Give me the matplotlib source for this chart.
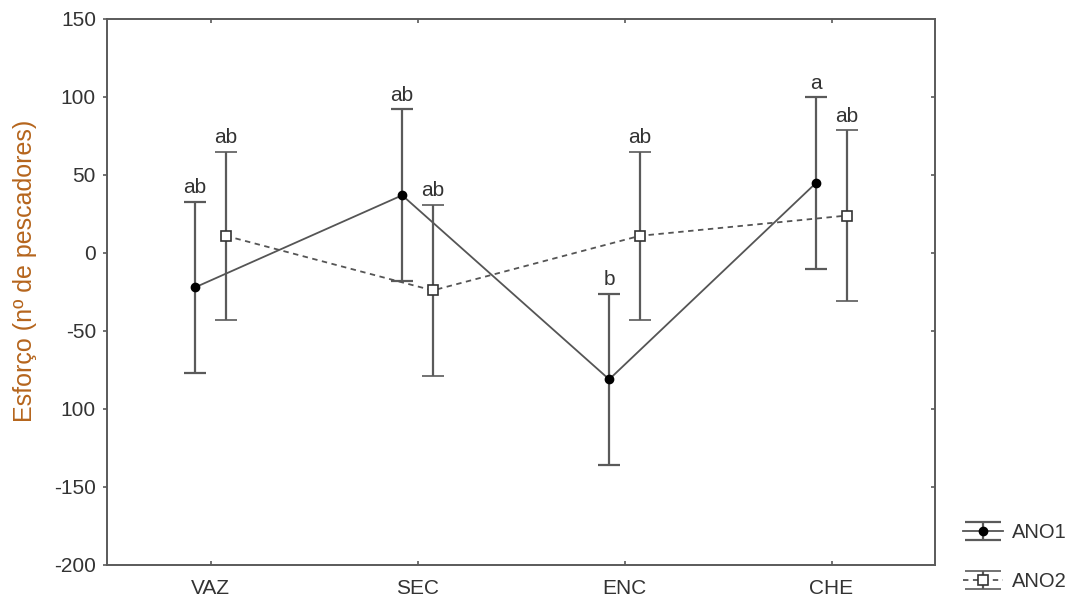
import matplotlib.pyplot as plt
import numpy as np
from matplotlib.legend_handler import HandlerErrorbar
from matplotlib.lines import Line2D

plt.rcParams['font.family'] = ['Liberation Sans', 'DejaVu Sans']

# data
categories = ['VAZ', 'SEC', 'ENC', 'CHE']
ano1_mean = [-22, 37, -81, 45]
ano1_err = [55, 55, 55, 55]
ano1_letters = ['ab', 'ab', 'b', 'a']
ano2_mean = [11, -24, 11, 24]
ano2_err = [54, 55, 54, 55]
ano2_letters = ['ab', 'ab', 'ab', 'ab']
yticks = [150, 100, 50, 0, -50, -100, -150, -200]
ytick_labels = ['150', '100', '50', '0', '-50', '100', '-150', '-200']

GRAY = '#5a5a5a'
TXT = '#333333'


class WideCapHandler(HandlerErrorbar):
    # caps across the whole handle, like the reference legend
    def create_artists(self, *args, **kwargs):
        arts = super().create_artists(*args, **kwargs)
        for a in arts:
            if isinstance(a, Line2D) and a.get_marker() == '_':
                a.set_markersize(26)
        return arts


fig = plt.figure(figsize=(10.67, 5.99), dpi=100)
ax = fig.add_axes([107 / 1067, 1 - 565 / 599, (935 - 107) / 1067, (565 - 19) / 599])

x = np.arange(1, len(categories) + 1)
off = 0.074

e1 = ax.errorbar(x - off, ano1_mean, yerr=ano1_err, fmt='o', ms=6, mfc='black', mec='black',
                 ecolor=GRAY, elinewidth=1.6, capsize=8, capthick=1.6,
                 ls='-', color='#555555', lw=1.3, label='ANO1', zorder=3)
e2 = ax.errorbar(x + off, ano2_mean, yerr=ano2_err, fmt='s', ms=7, mfc='white', mec='#333333', mew=1.2,
                 ecolor=GRAY, elinewidth=1.6, capsize=8, capthick=1.6,
                 ls=(0, (3, 2.5)), color='#555555', lw=1.3, label='ANO2', zorder=3)

for xi, m, e, t in zip(x - off, ano1_mean, ano1_err, ano1_letters):
    ax.annotate(t, (xi, m + e), xytext=(0, 3), textcoords='offset points',
                ha='center', va='bottom', fontsize=15, color=TXT)
for xi, m, e, t in zip(x + off, ano2_mean, ano2_err, ano2_letters):
    ax.annotate(t, (xi, m + e), xytext=(0, 3), textcoords='offset points',
                ha='center', va='bottom', fontsize=15, color=TXT)

ax.set_xlim(0.5, 4.5)
ax.set_ylim(-200, 150)
ax.set_xticks(x)
ax.set_xticklabels(categories)
ax.set_yticks(yticks)
ax.set_yticklabels(ytick_labels)

for s in ax.spines.values():
    s.set_color(GRAY)
    s.set_linewidth(1.4)

ax.tick_params(axis='y', direction='out', length=3, width=1.2, color=GRAY,
               labelsize=15, labelcolor=TXT, pad=5)
ax.tick_params(axis='x', direction='in', length=3, width=1.2, color=GRAY,
               labelsize=15, labelcolor=TXT, pad=10)

# inward ticks on the right and top sides
ax_r = ax.secondary_yaxis('right')
ax_r.set_yticks(yticks[1:-1])
ax_r.tick_params(direction='in', length=3, width=1.2, color=GRAY, labelright=False)
ax_r.spines['right'].set_visible(False)
ax_t = ax.secondary_xaxis('top')
ax_t.set_xticks(x)
ax_t.tick_params(direction='in', length=3, width=1.2, color=GRAY, labeltop=False)
ax_t.spines['top'].set_visible(False)

fig.text(25 / 1067, 1 - 271 / 599, 'Esforço (nº de pescadores)', rotation=90,
         ha='center', va='center', fontsize=18, color='#B5651D')

fig.legend(handles=[e1, e2], loc='upper left', bbox_to_anchor=(945 / 1067, 1 - 505 / 599),
           frameon=False, fontsize=14.5, labelspacing=1.5, handlelength=2.0,
           handletextpad=0.4, labelcolor=TXT,
           handler_map={type(e1): WideCapHandler(yerr_size=0.45)})

fig.savefig('out.png', dpi=100)
